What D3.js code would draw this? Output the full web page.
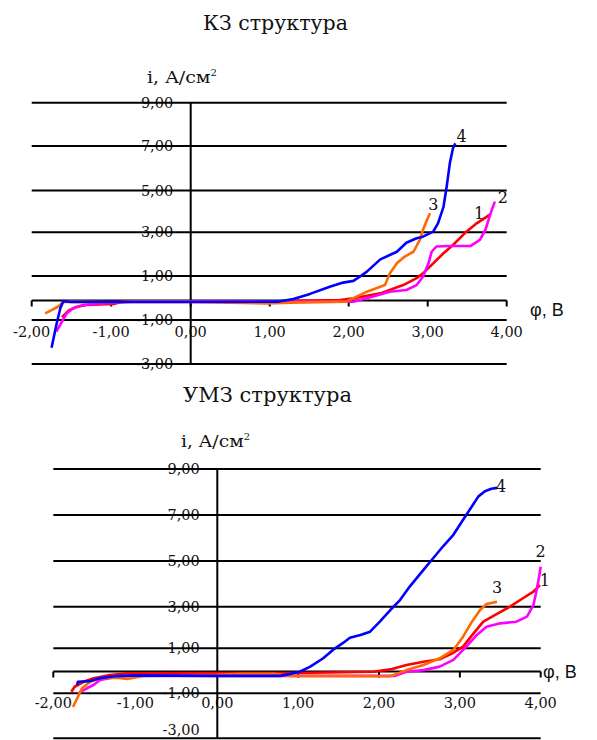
<!DOCTYPE html>
<html><head><meta charset="utf-8">
<script src="https://cdn.jsdelivr.net/npm/d3@7/dist/d3.min.js"></script>
<style>html,body{margin:0;padding:0;background:#fff}svg{display:block}
.sf{font-family:"DejaVu Serif","Liberation Serif",serif}
.ss{font-family:"Liberation Sans","DejaVu Sans",Arial,sans-serif}</style>
</head><body>
<svg id="c" width="597" height="740"></svg>
<script>
// ---- data ----
const xTicks = [-2, -1, 0, 1, 2, 3, 4];
const yTicks = [-3, -1, 1, 3, 5, 7, 9];
const seriesNames = ["1", "2", "3", "4"];
const seriesColors = ["#ff0000", "#ff00ff", "#ff6a00", "#0000ff"];

// КЗ структура
const kz1 = [[-1.62,-0.85],[-1.53,-0.5],[-1.43,-0.32],[-1.31,-0.23],[-0.97,-0.18],[-0.85,-0.05],[0,-0.05],[1.0,-0.05],[1.89,0.02],[2.06,0.09],[2.40,0.29],[2.69,0.63],[2.86,0.91],[2.94,1.12],[3.07,1.58],[3.20,2.04],[3.32,2.42],[3.49,3.03],[3.62,3.43],[3.75,3.75],[3.79,3.86]];
const kz2 = [[-1.69,-1.53],[-1.62,-1.08],[-1.56,-0.66],[-1.48,-0.40],[-1.35,-0.23],[-1.18,-0.18],[-0.9,-0.1],[-0.7,-0.05],[0,-0.05],[1.0,-0.05],[2.06,-0.06],[2.31,0.16],[2.52,0.36],[2.73,0.43],[2.86,0.63],[2.94,0.97],[3.01,1.58],[3.05,2.11],[3.11,2.35],[3.28,2.37],[3.54,2.37],[3.66,2.65],[3.73,3.11],[3.77,3.59],[3.81,4.06],[3.85,4.47]];
const kz3 = [[-1.83,-0.66],[-1.75,-0.49],[-1.67,-0.32],[-1.60,-0.06],[-1.0,-0.08],[0,-0.08],[0.97,-0.15],[1.26,-0.11],[1.97,-0.06],[2.10,0.16],[2.23,0.36],[2.40,0.56],[2.46,0.63],[2.52,1.12],[2.61,1.58],[2.71,1.89],[2.82,2.11],[2.90,2.65],[2.94,3.11],[2.99,3.59],[3.03,3.91]];
const kz4 = [[-1.75,-2.26],[-1.69,-1.23],[-1.64,-0.40],[-1.60,-0.03],[-1.5,-0.08],[0,-0.08],[1.1,-0.06],[1.3,0.06],[1.51,0.27],[1.76,0.56],[1.93,0.73],[2.06,0.80],[2.14,0.97],[2.23,1.20],[2.40,1.76],[2.52,1.96],[2.61,2.11],[2.73,2.52],[2.86,2.73],[2.94,2.80],[3.07,3.03],[3.13,3.43],[3.20,4.22],[3.24,5.17],[3.28,6.22],[3.32,6.90],[3.35,7.12]];
const kzLabels = [["4",3.43,7.46],["3",3.07,4.36],["1",3.65,3.90],["2",3.95,4.69]];

// УМЗ структура
const umz1 = [[-1.78,-0.93],[-1.74,-0.70],[-1.63,-0.47],[-1.51,-0.31],[-1.31,-0.16],[-1.1,-0.08],[0,-0.07],[1.0,-0.07],[1.93,-0.01],[2.14,0.09],[2.34,0.28],[2.55,0.42],[2.75,0.53],[2.92,0.81],[3.04,1.08],[3.17,1.72],[3.29,2.28],[3.46,2.65],[3.62,3.0],[3.78,3.37],[3.91,3.66],[3.99,3.95]];
const umz2 = [[-1.70,-1.0],[-1.59,-0.77],[-1.51,-0.62],[-1.43,-0.39],[-1.23,-0.25],[-1.03,-0.2],[0,-0.2],[1.0,-0.2],[2.2,-0.2],[2.34,-0.01],[2.55,0.06],[2.75,0.21],[2.92,0.50],[3.08,1.08],[3.21,1.64],[3.33,2.04],[3.50,2.20],[3.70,2.28],[3.83,2.52],[3.91,3.07],[3.95,3.73],[3.98,4.31],[4.0,4.75]];
const umz3 = [[-1.76,-1.61],[-1.71,-1.23],[-1.65,-0.77],[-1.55,-0.47],[-1.43,-0.31],[-1.23,-0.28],[-1.10,-0.34],[-0.9,-0.2],[0,-0.15],[0.3,-0.1],[0.7,-0.1],[0.9,-0.2],[2.14,-0.22],[2.34,0.06],[2.55,0.28],[2.75,0.57],[2.92,0.93],[3.04,1.56],[3.15,2.28],[3.25,2.84],[3.33,3.12],[3.46,3.22]];
const umz4 = [[-1.71,-0.62],[-1.70,-0.47],[-1.55,-0.44],[-1.43,-0.31],[-1.23,-0.21],[-1.02,-0.18],[0,-0.2],[0.78,-0.2],[0.90,-0.11],[1.02,-0.01],[1.15,0.21],[1.31,0.57],[1.43,0.93],[1.56,1.27],[1.64,1.51],[1.77,1.64],[1.89,1.80],[2.01,2.28],[2.14,2.84],[2.26,3.29],[2.38,3.88],[2.55,4.61],[2.67,5.12],[2.79,5.63],[2.92,6.14],[3.04,6.79],[3.15,7.38],[3.23,7.81],[3.31,8.03],[3.39,8.14],[3.46,8.18]];
const umzLabels = [["4",3.51,8.28],["2",4.0,5.42],["3",3.46,3.88],["1",4.05,4.17]];

// ---- layout ----
const panels = [
  { title: "КЗ структура", titleX: 203, titleY: 30, titleW: 145, titleSize: 20,
    yTitleX: 147, yTitleY: 83, yTitleW: 70,
    xUnitX: 530, xUnitY: 316,
    xDom: [-2, 0, 4], xRng: [31.7, 190.7, 506.7],
    yDom: [-3, -1, 0, 1, 3, 5, 7, 9], yRng: [364, 320, 300.5, 276, 232.3, 190.5, 146, 102.7],
    series: [kz1, kz2, kz3, kz4], labels: kzLabels, xLabOff: 36 },
  { title: "УМЗ структура", titleX: 183, titleY: 402, titleW: 169, titleSize: 20,
    yTitleX: 181, yTitleY: 446.5, yTitleW: 69,
    xUnitX: 543, xUnitY: 678,
    xDom: [-2, 0, 4], xRng: [53.3, 217.3, 540.7],
    yDom: [-3, -1, 0, 1, 3, 5, 7, 9], yRng: [738.3, 693.3, 671.5, 648.3, 606.7, 561, 515, 469],
    series: [umz1, umz2, umz3, umz4], labels: umzLabels, xLabOff: 36.5 }
];

const svg = d3.select("#c");
const fmt = d => (d < 0 ? "-" : "") + Math.abs(d).toFixed(2).replace(".", ",");

panels.forEach(p => {
  const x = d3.scaleLinear().domain(p.xDom).range(p.xRng);
  const y = d3.scaleLinear().domain(p.yDom).range(p.yRng);
  const g = svg.append("g");
  const x0 = x(xTicks[0]), x1 = x(xTicks[xTicks.length - 1]);

  // title
  g.append("text").attr("class", "sf").attr("x", p.titleX).attr("y", p.titleY)
    .attr("font-size", p.titleSize).attr("fill", "#111")
    .attr("textLength", p.titleW).attr("lengthAdjust", "spacingAndGlyphs")
    .text(p.title);

  // y axis title
  const yt = g.append("text").attr("class", "sf").attr("x", p.yTitleX).attr("y", p.yTitleY)
    .attr("font-size", 17).attr("fill", "#111")
    .attr("textLength", p.yTitleW).attr("lengthAdjust", "spacingAndGlyphs");
  yt.append("tspan").text("i, A/см");
  yt.append("tspan").attr("dy", -7).attr("font-size", 9).text("2");

  // x unit
  g.append("text").attr("class", "ss").attr("x", p.xUnitX).attr("y", p.xUnitY)
    .attr("font-size", 18).attr("fill", "#111")
    .text("φ, В");

  // y tick labels (under gridlines)
  g.append("g").selectAll("text").data(yTicks).join("text")
    .attr("class", "sf")
    .attr("x", x(0) - 17.5).attr("y", d => Math.min(y(d) + 5, 735))
    .attr("text-anchor", "end").attr("font-size", 14.5)
    .attr("fill", "#111").text(fmt);

  // x tick labels
  g.append("g").selectAll("text").data(xTicks).join("text")
    .attr("class", "sf")
    .attr("x", d => x(d)).attr("y", y(0) + p.xLabOff)
    .attr("text-anchor", "middle").attr("font-size", 14.5)
    .attr("fill", "#111").text(fmt);

  // gridlines
  g.append("g").selectAll("line").data(yTicks).join("line")
    .attr("x1", x0).attr("x2", x1).attr("y1", d => y(d)).attr("y2", d => y(d))
    .attr("stroke", "#000").attr("stroke-width", 2);

  // y axis (vertical at x=0)
  g.append("line").attr("x1", x(0)).attr("x2", x(0))
    .attr("y1", y(yTicks[0])).attr("y2", y(yTicks[yTicks.length - 1]))
    .attr("stroke", "#000").attr("stroke-width", 2);

  // x axis at y=0 with ticks
  g.append("line").attr("x1", x0).attr("x2", x1).attr("y1", y(0)).attr("y2", y(0))
    .attr("stroke", "#000").attr("stroke-width", 2);
  g.append("g").selectAll("line").data(xTicks).join("line")
    .attr("x1", d => x(d)).attr("x2", d => x(d))
    .attr("y1", y(0)).attr("y2", y(0) + 6)
    .attr("stroke", "#000").attr("stroke-width", 2);

  // series
  const line = d3.line().x(d => x(d[0])).y(d => y(d[1]));
  p.series.forEach((s, i) => {
    g.append("path").datum(s).attr("d", line)
      .attr("fill", "none").attr("stroke", seriesColors[i])
      .attr("stroke-width", 2.6).attr("stroke-linejoin", "round");
  });

  // series number labels
  g.append("g").selectAll("text").data(p.labels).join("text")
    .attr("class", "sf")
    .attr("x", d => x(d[1])).attr("y", d => y(d[2]) + 6)
    .attr("text-anchor", "middle").attr("font-size", 16)
    .attr("fill", "#111").text(d => d[0]);
});
</script>
</body></html>
